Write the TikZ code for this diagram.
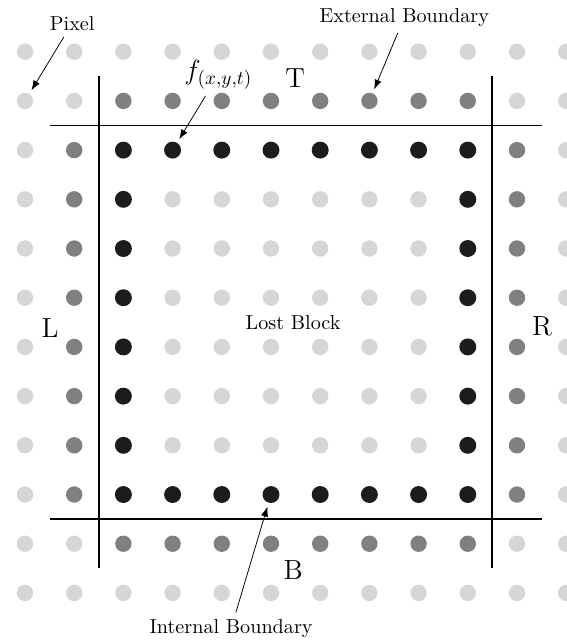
\documentclass[tikz,border=0pt]{standalone}
\usepackage{amsmath}
\usepackage{tikz}
\usetikzlibrary{arrows.meta,positioning,calc}
\definecolor{dotlite}{RGB}{214,214,214}
\definecolor{dotmid}{RGB}{128,128,128}
\definecolor{dotdark}{RGB}{28,28,28}

\begin{document}
\begin{tikzpicture}[x=0.9cm,y=0.9cm]
  \tikzstyle{litedot}=[circle,fill=dotlite,inner sep=0pt,minimum size=0.3cm]
  \tikzstyle{middot}=[circle,fill=dotmid,inner sep=0pt,minimum size=0.3cm]
  \tikzstyle{darkdot}=[circle,fill=dotdark,inner sep=0pt,minimum size=0.31cm]
  \tikzstyle{bound}=[line width=1pt]
  \tikzstyle{tag}=[font=\fontsize{10.5}{12}\selectfont]
  \tikzstyle{side}=[font=\Large]
  \tikzstyle{pointer}=[-{Latex[length=1.8mm,width=1.3mm]},shorten >=2pt]

  \useasboundingbox (-0.508,1.051) rectangle (10.996,-11.957);

  % pixel grid
  \foreach \i in {0,...,11} {
    \foreach \j in {0,...,11} {
      \pgfmathtruncatemacro\ring{max(abs(2*\i-11),abs(2*\j-11))}
      \pgfmathtruncatemacro\edge{min(abs(2*\i-11),abs(2*\j-11))}
      \def\dotstyle{litedot}
      \ifnum\ring=7 \def\dotstyle{darkdot}\fi
      \ifnum\ring=9 \ifnum\edge<9 \def\dotstyle{middot}\fi\fi
      \node[\dotstyle] (p-\i-\j) at (\i,-\j) {};
    }
  }

  % block boundary
  \draw[bound] (0.5,-1.5) -- (10.5,-1.5);
  \draw[bound] (0.5,-9.5) -- (10.5,-9.5);
  \draw[bound] (1.5,-0.5) -- (1.5,-10.5);
  \draw[bound] (9.5,-0.5) -- (9.5,-10.5);

  \node[tag] (pixel) at (0.96,0.58) {Pixel};
  \node[tag] (extb) at (7.71,0.70) {External Boundary};
  \node[tag] (intb) at (4.19,-11.72) {Internal Boundary};
  \node[tag] (lost) at (5.45,-5.51) {Lost Block};
  \node[side] (fxyt) at (3.93,-0.47) {$f_{(x,y,t)}$};
  \node[side] (top) at (5.49,-0.53) {T};
  \node[side] (bottom) at (5.45,-10.53) {B};
  \node[side] (left) at (0.51,-5.61) {L};
  \node[side] (right) at (10.51,-5.58) {R};

  \draw[pointer] (pixel) -- (p-0-1);
  \draw[pointer] (extb) -- (p-7-1);
  \draw[pointer] (fxyt) -- (p-3-2);
  \draw[pointer] (intb) -- (p-5-9);
\end{tikzpicture}
\end{document}
